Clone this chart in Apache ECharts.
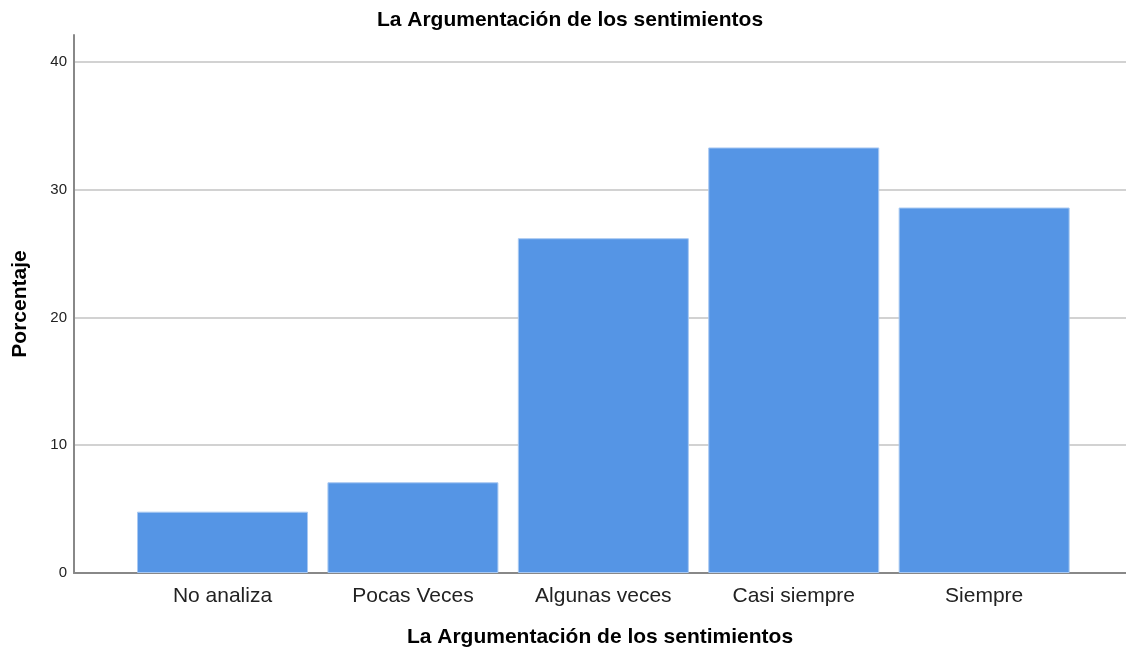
<!DOCTYPE html>
<html>
<head>
<meta charset="utf-8">
<script src="https://cdn.jsdelivr.net/npm/echarts@6/dist/echarts.min.js"></script>
<style>
  html, body { margin: 0; padding: 0; background: #fff; }
  #chart { width: 1126px; height: 652px; }
</style>
</head>
<body>
<div id="chart"></div>
<script>
const categories = ["No analiza", "Pocas Veces", "Algunas veces", "Casi siempre", "Siempre"];
const percentages = [4.8, 7.1, 26.2, 33.3, 28.6];
const yTicks = [0, 10, 20, 30, 40];

const fontFamily = "'Liberation Sans', Arial, sans-serif";

// bars sit on a value axis so the plot can keep the wide margin on the left
const barData = percentages.map((v, i) => [i, v]);

const chart = echarts.init(document.getElementById("chart"));
chart.setOption({
  animation: false,
  title: {
    text: "La Argumentación de los sentimientos",
    left: 565,
    top: 5,
    textAlign: "center",
    textStyle: { fontFamily, fontSize: 21, fontWeight: "bold", color: "#000" },
  },
  grid: { left: 74, right: 0, top: 35, bottom: 79, outerBoundsMode: "none" },
  xAxis: {
    type: "value",
    min: -0.78,
    max: 4.745,
    name: "La Argumentación de los sentimientos",
    nameLocation: "middle",
    nameGap: 54,
    nameTextStyle: { fontFamily, fontSize: 21, fontWeight: "bold", color: "#000" },
    axisLine: { show: true, onZero: false, lineStyle: { color: "#888", width: 2 } },
    axisTick: { show: false },
    splitLine: { show: false },
    axisLabel: {
      customValues: [0, 1, 2, 3, 4],
      formatter: (v) => categories[Math.round(v)],
      fontFamily,
      fontSize: 21,
      color: "#222",
      margin: 13,
    },
  },
  yAxis: {
    type: "value",
    min: 0,
    max: 42.1,
    interval: 10,
    name: "Porcentaje",
    nameLocation: "middle",
    nameGap: 43,
    nameTextStyle: { fontFamily, fontSize: 21, fontWeight: "bold", color: "#000" },
    axisLine: { show: true, onZero: false, lineStyle: { color: "#888", width: 2 } },
    axisTick: { show: false },
    axisLabel: {
      customValues: yTicks,
      fontFamily,
      fontSize: 15,
      color: "#222",
      margin: 7,
    },
    splitLine: { show: true, showMaxLine: false, lineStyle: { color: "#d2d2d2", width: 2 } },
  },
  series: [
    {
      type: "bar",
      data: barData,
      barWidth: 171,
      itemStyle: { color: "#5595e5", borderColor: "#a9c9f2", borderWidth: 1 },
    },
  ],
});
</script>
</body>
</html>
